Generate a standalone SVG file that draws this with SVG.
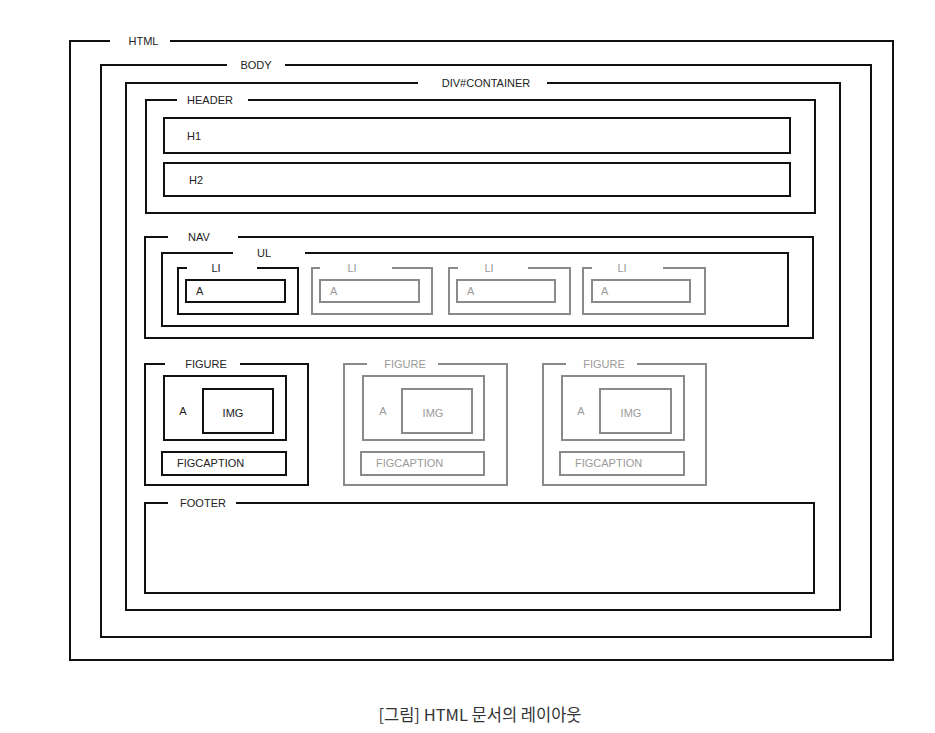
<svg xmlns="http://www.w3.org/2000/svg" width="935" height="733" viewBox="0 0 935 733">
<style>
.k{fill:none;stroke:#111;stroke-width:2}
.g{fill:none;stroke:#8a8a8a;stroke-width:2}
.t{font-family:"Liberation Sans",Arial,sans-serif;font-size:11px;fill:#222;dominant-baseline:central}
.tg{font-family:"Liberation Sans",Arial,sans-serif;font-size:11px;fill:#9a9a9a;dominant-baseline:central}
.m{text-anchor:middle}
.cap{font-family:"Noto Sans CJK KR","Noto Sans",sans-serif;font-size:16.5px;fill:#333;text-anchor:middle}
</style>
<rect width="935" height="733" fill="#fff"/>
<g id="html"><path class="k" d="M170,41 H893 V660 H70 V41 H110"/><text class="t m" x="143.5" y="41">HTML</text></g>
<g id="body"><path class="k" d="M285,65 H871 V637 H101 V65 H227"/><text class="t m" x="256" y="65">BODY</text></g>
<g id="container"><path class="k" d="M547,83 H840 V610 H126 V83 H418"/><text class="t m" x="486" y="83">DIV#CONTAINER</text></g>
<g id="header"><path class="k" d="M248,100 H815 V213 H146 V100 H177"/><text class="t m" x="210" y="100">HEADER</text></g>
<g id="h1"><rect class="k" x="164" y="118" width="626" height="35"/><text class="t" x="187" y="136">H1</text></g>
<g id="h2"><rect class="k" x="164" y="163" width="626" height="33"/><text class="t" x="189" y="180">H2</text></g>
<g id="nav"><path class="k" d="M238,237 H813 V338 H145 V237 H168"/><text class="t m" x="199" y="237">NAV</text></g>
<g id="ul"><path class="k" d="M305,253 H788 V326 H162 V253 H233"/><text class="t m" x="264" y="253">UL</text></g>
<g id="li1"><path class="k" d="M257,268 H298 V314 H178 V268 H187"/><text class="t m" x="216" y="268">LI</text></g>
<g id="a1"><rect class="k" x="186" y="280" width="99" height="22"/><text class="t" x="196" y="291">A</text></g>
<g id="li2"><path class="g" d="M392,268 H432 V314 H312 V268 H320"/><text class="tg m" x="352" y="268">LI</text></g>
<g id="a2"><rect class="g" x="320" y="280" width="99" height="22"/><text class="tg" x="330" y="291">A</text></g>
<g id="li3"><path class="g" d="M528,268 H570 V314 H449 V268 H458"/><text class="tg m" x="489" y="268">LI</text></g>
<g id="a3"><rect class="g" x="457" y="280" width="98" height="22"/><text class="tg" x="467" y="291">A</text></g>
<g id="li4"><path class="g" d="M663,268 H705 V314 H583 V268 H592"/><text class="tg m" x="622" y="268">LI</text></g>
<g id="a4"><rect class="g" x="592" y="280" width="98" height="22"/><text class="tg" x="601" y="291">A</text></g>
<g id="figure1"><path class="k" d="M240,364 H308 V485 H145 V364 H165"/><text class="t m" x="206" y="364">FIGURE</text>
<rect class="k" x="164" y="376" width="122" height="64"/><text class="t m" x="183" y="411">A</text>
<rect class="k" x="203" y="389" width="70" height="44"/><text class="t m" x="233" y="413">IMG</text>
<rect class="k" x="162" y="452" width="124" height="23"/><text class="t" x="177" y="463">FIGCAPTION</text></g>
<g id="figure2"><path class="g" d="M438,364 H507 V485 H344 V364 H367"/><text class="tg m" x="405" y="364">FIGURE</text>
<rect class="g" x="363" y="376" width="121" height="64"/><text class="tg m" x="383" y="411">A</text>
<rect class="g" x="402" y="389" width="70" height="44"/><text class="tg m" x="433" y="413">IMG</text>
<rect class="g" x="361" y="452" width="123" height="23"/><text class="tg" x="376" y="463">FIGCAPTION</text></g>
<g id="figure3"><path class="g" d="M637,364 H706 V485 H543 V364 H566"/><text class="tg m" x="604" y="364">FIGURE</text>
<rect class="g" x="562" y="376" width="122" height="64"/><text class="tg m" x="581" y="411">A</text>
<rect class="g" x="600" y="389" width="71" height="44"/><text class="tg m" x="631" y="413">IMG</text>
<rect class="g" x="560" y="452" width="124" height="23"/><text class="tg" x="575" y="463">FIGCAPTION</text></g>
<g id="footer"><path class="k" d="M236,503 H814 V593 H145 V503 H168"/><text class="t m" x="203" y="503">FOOTER</text></g>
<g id="connectors"/>
<text class="cap" x="480" y="721">[그림] HTML 문서의 레이아웃</text>
</svg>
